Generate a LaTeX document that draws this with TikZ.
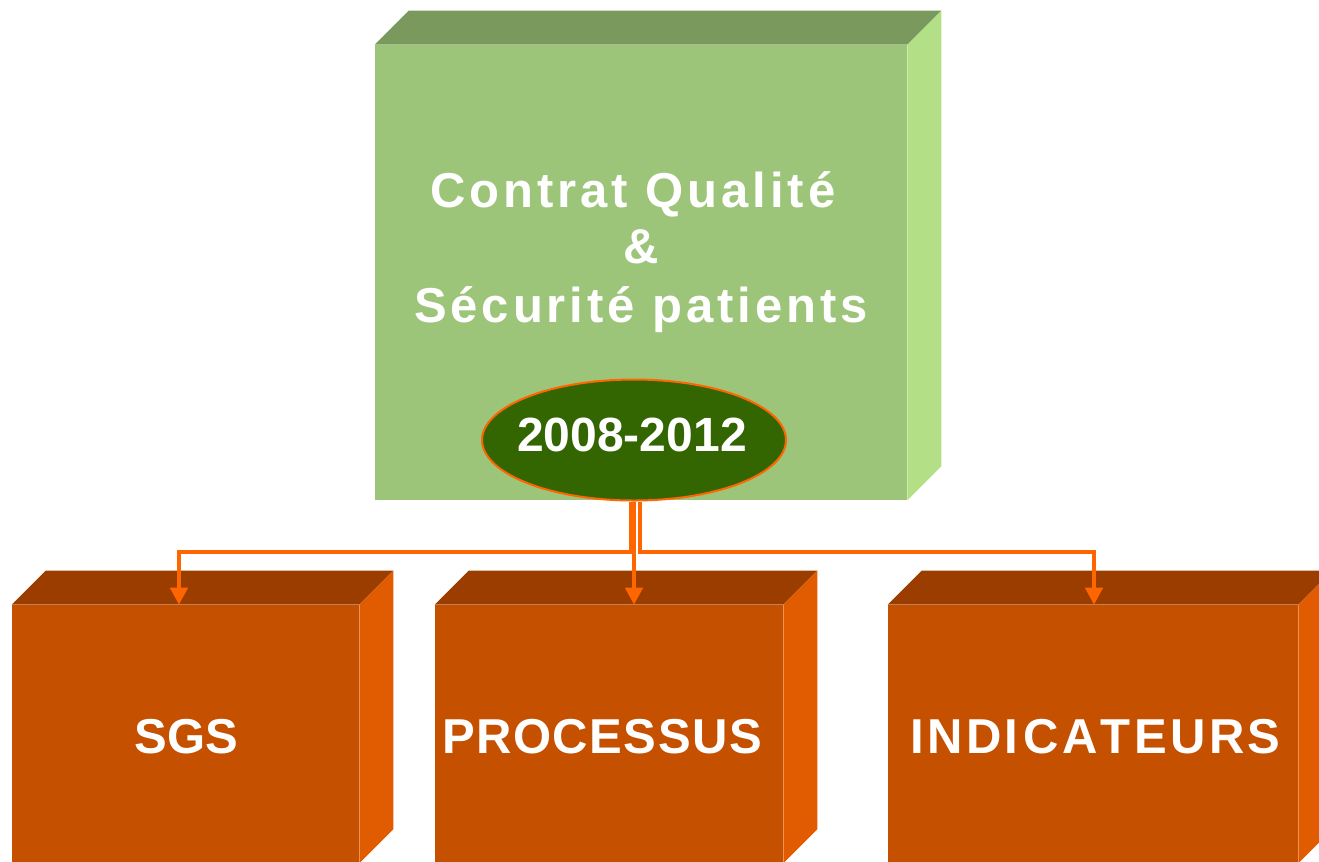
\documentclass[tikz,border=0pt]{standalone}
\usepackage{fontspec}
\setmainfont{Liberation Sans}
\newfontfamily\titlefont[LetterSpace=8]{Liberation Sans}
\newfontfamily\lblfontA[LetterSpace=3]{Liberation Sans}
\newfontfamily\lblfontB[LetterSpace=7,Kerning=Off]{Liberation Sans}
\usetikzlibrary{shapes.geometric,arrows.meta}
\definecolor{gfront}{HTML}{9DC579}
\definecolor{gtop}{HTML}{7A9A5D}
\definecolor{gside}{HTML}{B3E086}
\definecolor{ofront}{HTML}{C45000}
\definecolor{otop}{HTML}{9C3D00}
\definecolor{oside}{HTML}{E15B00}
\definecolor{connc}{HTML}{FF6600}
\definecolor{ellfill}{HTML}{336600}
\tikzset{
  face/.style={rectangle, inner sep=0pt, draw=none},
  bigtxt/.style={text=white, inner sep=0pt, anchor=base,
    font=\bfseries\fontsize{36.75pt}{43pt}\selectfont},
  titletxt/.style={text=white, inner sep=0pt, anchor=base,
    font=\titlefont\bfseries\fontsize{36.75pt}{43pt}\selectfont},
  cline/.style={draw=connc, line width=3.5pt, -{Triangle[width=12.75pt,length=12.75pt]}}
}
\begin{document}
\begin{tikzpicture}[x=0.75pt,y=-0.75pt]
\useasboundingbox (0,0) rectangle (1319,861);
\clip (0,0) rectangle (1319,861);
% top box
\node[face, fill=gfront, minimum width=399pt, minimum height=341.25pt] (top) at (641,272.5) {};
\fill[gtop] (top.north west) -- ++(34,-34) -- ([shift={(34,-34)}]top.north east) -- (top.north east) -- cycle;
\fill[gside] (top.north east) -- ++(34,-34) -- ([shift={(34,-34)}]top.south east) -- (top.south east) -- cycle;
\node[titletxt] (t1) at (633,207) {Contrat Qualité};
\node[titletxt] (t2) at (641,263) {\&};
\node[titletxt] (t3) at (641,322) {Sécurité patients};
% ellipse
\node[ellipse, fill=ellfill, draw=connc, line width=1.5pt, minimum width=228pt, minimum height=90.75pt, inner sep=0pt] (ell) at (634,440) {};
\node[text=white, inner sep=0pt, anchor=base, font=\bfseries\fontsize{36pt}{40pt}\selectfont] (yr) at (632,451) {2008-2012};
% bottom boxes
\node[face, fill=ofront, minimum width=260.25pt, minimum height=193.5pt] (b1) at (185.5,734) {};
\node[face, fill=ofront, minimum width=261pt, minimum height=193.5pt] (b2) at (609,734) {};
\node[face, fill=ofront, minimum width=307.5pt, minimum height=193.5pt] (b3) at (1093,734) {};
\foreach \b in {b1,b2,b3}{
  \fill[otop] (\b.north west) -- ++(34,-34) -- ([shift={(34,-34)}]\b.north east) -- (\b.north east) -- cycle;
  \fill[oside] (\b.north east) -- ++(34,-34) -- ([shift={(34,-34)}]\b.south east) -- (\b.south east) -- cycle;
}
\node[bigtxt] (l1) at (186.5,753) {SGS};
\node[bigtxt, font=\lblfontA\bfseries\fontsize{36.75pt}{43pt}\selectfont] (l2) at (602,753) {PROCESSUS};
\node[bigtxt, font=\lblfontB\bfseries\fontsize{36.75pt}{43pt}\selectfont] (l3) at (1095.5,753) {I\kern2.5pt NDI\kern3.5pt CATEURS};
% connectors
\coordinate (j) at (634,552);
\draw[cline] ([xshift=-2.25pt]ell.south) -- ([xshift=-2.25pt]ell.south |- j) -| ([xshift=-4.9pt]b1.north);
\draw[cline] (ell.south) -- (ell.south |- b2.north);
\draw[cline] ([xshift=4.5pt]ell.south) -- ([xshift=4.5pt]ell.south |- j) -| ([xshift=0.75pt]b3.north);
\end{tikzpicture}
\end{document}
